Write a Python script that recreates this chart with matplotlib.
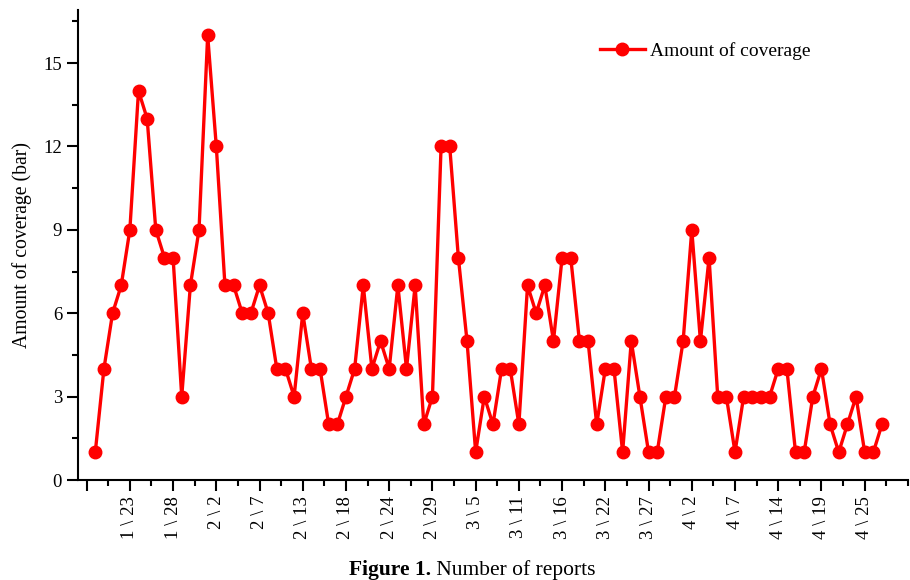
import matplotlib
matplotlib.use("Agg")
import matplotlib.pyplot as plt
from matplotlib.ticker import MultipleLocator, FixedLocator

plt.rcParams['font.family'] = ['Liberation Serif', 'DejaVu Serif']

coverage = [1, 4, 6, 7, 9, 14, 13, 9, 8, 8, 3, 7, 9, 16, 12, 7, 7, 6, 6, 7,
            6, 4, 4, 3, 6, 4, 4, 2, 2, 3, 4, 7, 4, 5, 4, 7, 4, 7, 2, 3,
            12, 12, 8, 5, 1, 3, 2, 4, 4, 2, 7, 6, 7, 5, 8, 8, 5, 5, 2, 4,
            4, 1, 5, 3, 1, 1, 3, 3, 5, 9, 5, 8, 3, 3, 1, 3, 3, 3, 3, 4,
            4, 1, 1, 3, 4, 2, 1, 2, 3, 1, 1, 2]
tick_labels = ["1 \\ 23", "1 \\ 28", "2 \\ 2", "2 \\ 7", "2 \\ 13", "2 \\ 18",
               "2 \\ 24", "2 \\ 29", "3 \\ 5", "3 \\ 11", "3 \\ 16", "3 \\ 22",
               "3 \\ 27", "4 \\ 2", "4 \\ 7", "4 \\ 14", "4 \\ 19", "4 \\ 25"]
x = list(range(1, len(coverage) + 1))
tick_pos = [5 * (i + 1) for i in range(len(tick_labels))]

fig = plt.figure(figsize=(9.1, 5.8), dpi=100)
ax = fig.add_axes([0.0857, 0.1724, 0.912, 0.81])

ax.plot(x, coverage, color='#ff0000', lw=2.4, marker='o', markersize=9,
        label='Amount of coverage')

ax.set_xlim(-1, 95)
ax.set_ylim(0, 16.9)
ax.spines['top'].set_visible(False)
ax.spines['right'].set_visible(False)
for s in ('left', 'bottom'):
    ax.spines[s].set_linewidth(1.5)

ax.xaxis.set_major_locator(FixedLocator([0] + tick_pos))
ax.set_xticklabels([''] + tick_labels, rotation=90, fontsize=13.5)
ax.xaxis.set_minor_locator(MultipleLocator(2.5))
ax.yaxis.set_major_locator(MultipleLocator(3))
ax.yaxis.set_minor_locator(MultipleLocator(1.5))
ax.tick_params(axis='both', which='major', direction='out', length=8, width=1.5)
ax.tick_params(axis='both', which='minor', direction='out', length=4, width=1.5)
ax.tick_params(axis='y', labelsize=13.5)

ax.set_ylabel('Amount of coverage (bar)', fontsize=14.2, labelpad=8)

ax.legend(loc='center left', bbox_to_anchor=(0.629, 0.914), frameon=False,
          fontsize=14, handlelength=2.3, handletextpad=0.25,
          borderpad=0, borderaxespad=0)

t1 = fig.text(0.3835, 0.008, 'Figure 1.', fontsize=15.5, fontweight='bold',
              ha='left', va='baseline')
ax.annotate(' Number of reports', xy=(1, 0), xycoords=t1, fontsize=15.5,
            ha='left', va='bottom', annotation_clip=False)

fig.savefig('out.png', dpi=100)
